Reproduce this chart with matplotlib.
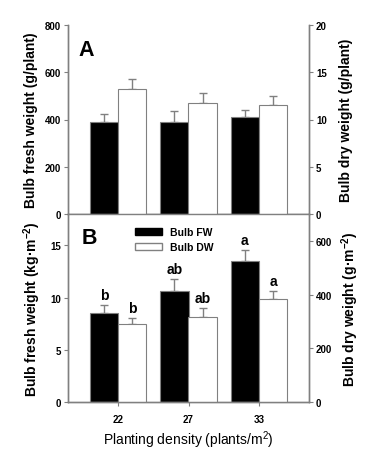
import matplotlib
matplotlib.use('Agg')
import matplotlib.pyplot as plt
import numpy as np
from matplotlib.patches import Patch

plt.rcParams['font.family'] = ['Liberation Sans', 'DejaVu Sans']
plt.rcParams['font.weight'] = 'bold'
plt.rcParams['mathtext.default'] = 'regular'

densities = ['22', '27', '33']

# panel A: per plant
fw_plant = [388, 391, 409]
fw_plant_err = [35, 45, 31]
dw_plant = [13.2, 11.78, 11.57]
dw_plant_err = [1.05, 1.05, 0.9]

# panel B: per area
fw_area = [8.51, 10.58, 13.53]
fw_area_err = [0.8, 1.19, 1.03]
dw_area = [290, 318, 384]
dw_area_err = [23, 32, 30]
fw_letters = ['b', 'ab', 'a']
dw_letters = ['b', 'ab', 'a']

SPINE = '#808080'
W = 0.40
x = np.arange(len(densities))

fig = plt.figure(figsize=(3.68, 4.52), dpi=100)
axA = fig.add_axes([68 / 368, 1 - 215 / 452, 241 / 368, 189 / 452])
axB = fig.add_axes([68 / 368, 1 - 403 / 452, 241 / 368, 188 / 452])


def style(ax, ax2):
    for a in (ax, ax2):
        for s in a.spines.values():
            s.set_color(SPINE)
            s.set_linewidth(1.0)
        a.tick_params(labelsize=7, length=3, width=0.8, color=SPINE, pad=2)
        for lab in a.get_yticklabels() + a.get_xticklabels():
            lab.set_fontweight('bold')
    ax.spines['top'].set_visible(False)
    ax2.spines['top'].set_visible(False)
    ax.set_xlim(-0.71, 2.71)


def bars(ax, ax2, fw, fwe, dw, dwe):
    ax.bar(x - W / 2, fw, W, color='black', edgecolor=SPINE, linewidth=0.8, zorder=2)
    ax.errorbar(x - W / 2, fw, yerr=[np.zeros(3), fwe], fmt='none', ecolor=SPINE,
                elinewidth=1.0, capsize=3, capthick=1.0, zorder=1)
    ax2.bar(x + W / 2, dw, W, color='white', edgecolor=SPINE, linewidth=0.8, zorder=2)
    ax2.errorbar(x + W / 2, dw, yerr=[np.zeros(3), dwe], fmt='none', ecolor=SPINE,
                 elinewidth=1.0, capsize=3, capthick=1.0, zorder=1)


LAB = 10

# Panel A
axA2 = axA.twinx()
bars(axA, axA2, fw_plant, fw_plant_err, dw_plant, dw_plant_err)
axA.set_ylim(0, 800)
axA.set_yticks([0, 200, 400, 600, 800])
axA2.set_ylim(0, 20)
axA2.set_yticks([0, 5, 10, 15, 20])
axA.set_xticks([])
style(axA, axA2)
axA.spines['bottom'].set_color('#444444')
axA.set_ylabel('Bulb fresh weight (g/plant)', fontsize=LAB, fontweight='bold', labelpad=5)
axA2.set_ylabel('Bulb dry weight (g/plant)', fontsize=LAB, fontweight='bold', labelpad=9)
axA.text(10 / 241, 1 - 24 / 189, 'A', transform=axA.transAxes, fontsize=15.5,
         fontweight='bold', va='center', ha='left')

# Panel B
axB2 = axB.twinx()
bars(axB, axB2, fw_area, fw_area_err, dw_area, dw_area_err)
axB.set_ylim(0, 18)
axB.set_yticks([0, 5, 10, 15])
axB2.set_ylim(0, 700)
axB2.set_yticks([0, 200, 400, 600])
axB.set_xticks(x)
axB.set_xticklabels(densities)
style(axB, axB2)
axB.tick_params(axis='x', pad=6)
axB.set_ylabel('Bulb fresh weight (kg\u00b7m$^{-2}$)', fontsize=LAB, fontweight='bold', labelpad=5)
axB2.set_ylabel('Bulb dry weight (g\u00b7m$^{-2}$)', fontsize=LAB, fontweight='bold', labelpad=5)
axB.set_xlabel('Planting density (plants/m$^2$)', fontsize=10, fontweight='normal', labelpad=3)
axB.text(14 / 241, 1 - 24 / 188, 'B', transform=axB.transAxes, fontsize=15.5,
         fontweight='bold', va='center', ha='left')

for i in range(3):
    axB.text(x[i] - W / 2, fw_area[i] + fw_area_err[i] + 0.3, fw_letters[i],
             ha='center', va='bottom', fontsize=10, fontweight='bold')
    axB2.text(x[i] + W / 2, dw_area[i] + dw_area_err[i] + 12, dw_letters[i],
              ha='center', va='bottom', fontsize=10, fontweight='bold')

handles = [Patch(facecolor='black', edgecolor='black'),
           Patch(facecolor='white', edgecolor=SPINE)]
axB.legend(handles, ['Bulb FW', 'Bulb DW'], loc='upper left',
           bbox_to_anchor=(0.24, 0.98), frameon=False,
           handlelength=2.6, handleheight=0.7, handletextpad=0.7, labelspacing=0.5,
           prop={'weight': 'bold', 'size': 7.5})

fig.savefig('out.png', dpi=100)
